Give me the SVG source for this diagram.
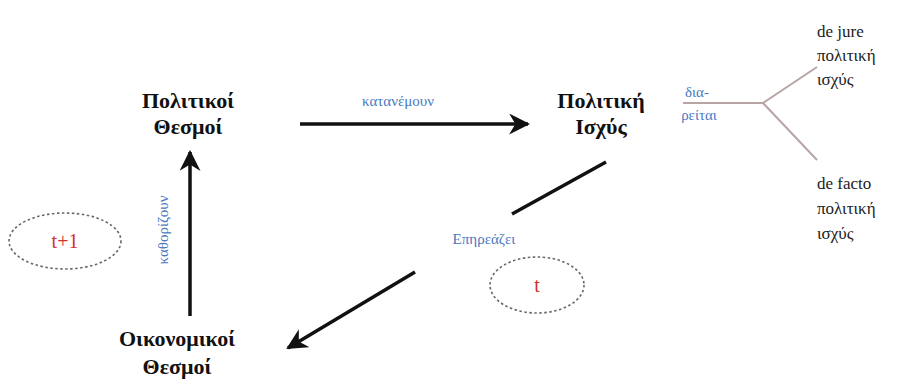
<svg xmlns="http://www.w3.org/2000/svg" width="922" height="387" viewBox="0 0 922 387">
<style>
.conn{stroke:#111;stroke-width:3.5;fill:none}
.branch{stroke:#b8a4a4;stroke-width:2;fill:none}
.dash{stroke:#666;stroke-width:1.6;stroke-dasharray:2.5 2.5;fill:none}
</style>
<defs>
<marker id="ah" viewBox="0 0 10 10" refX="9" refY="5" markerWidth="6" markerHeight="6" markerUnits="strokeWidth" orient="auto">
<path d="M0,0 L10,5 L0,10 L3,5 Z" fill="#111"/>
</marker>
</defs>
<rect width="922" height="387" fill="#fff"/>
<g id="connectors">
<line class="conn" x1="300" y1="124" x2="528" y2="124" marker-end="url(#ah)"/>
<text font-family="Liberation Serif" font-size="15" fill="#4a78c2" x="398" y="106" text-anchor="middle">κατανέμουν</text>
<line class="conn" x1="190" y1="316" x2="190" y2="152" marker-end="url(#ah)"/>
<text font-family="Liberation Serif" font-size="15" fill="#4a78c2" transform="translate(168,230) rotate(-90)" text-anchor="middle">καθορίζουν</text>
<line class="conn" x1="606" y1="162" x2="512" y2="214"/>
<line class="conn" x1="415" y1="272" x2="288" y2="348" marker-end="url(#ah)"/>
<text font-family="Liberation Serif" font-size="15" fill="#4a78c2" x="484" y="244" text-anchor="middle">Επηρεάζει</text>
<line class="branch" x1="683" y1="103" x2="763" y2="103"/>
<line class="branch" x1="763" y1="103" x2="817" y2="67"/>
<line class="branch" x1="763" y1="103" x2="817" y2="160"/>
<text font-family="Liberation Serif" font-size="15" fill="#4a78c2" x="697" y="97" text-anchor="middle">δια-</text>
<text font-family="Liberation Serif" font-size="15" fill="#4a78c2" x="699" y="120" text-anchor="middle">ρείται</text>
</g>
<g id="n-politikoi-thesmoi">
<text font-family="Liberation Serif" font-weight="bold" font-size="22" fill="#111" text-anchor="middle" x="188" y="108">Πολιτικοί</text>
<text font-family="Liberation Serif" font-weight="bold" font-size="22" fill="#111" text-anchor="middle" x="188" y="134">Θεσμοί</text>
</g>
<g id="n-politiki-isxys">
<text font-family="Liberation Serif" font-weight="bold" font-size="22" fill="#111" text-anchor="middle" x="601" y="108">Πολιτική</text>
<text font-family="Liberation Serif" font-weight="bold" font-size="22" fill="#111" text-anchor="middle" x="601" y="134">Ισχύς</text>
</g>
<g id="n-oikonomikoi-thesmoi">
<text font-family="Liberation Serif" font-weight="bold" font-size="22" fill="#111" text-anchor="middle" x="177" y="346">Οικονομικοί</text>
<text font-family="Liberation Serif" font-weight="bold" font-size="22" fill="#111" text-anchor="middle" x="177" y="374">Θεσμοί</text>
</g>
<g id="n-dejure">
<text font-family="Liberation Serif" font-size="17" fill="#222" x="817" y="37">de jure</text>
<text font-family="Liberation Serif" font-size="17" fill="#222" x="817" y="61">πολιτική</text>
<text font-family="Liberation Serif" font-size="17" fill="#222" x="817" y="85">ισχύς</text>
</g>
<g id="n-defacto">
<text font-family="Liberation Serif" font-size="17" fill="#222" x="817" y="189">de facto</text>
<text font-family="Liberation Serif" font-size="17" fill="#222" x="817" y="214">πολιτική</text>
<text font-family="Liberation Serif" font-size="17" fill="#222" x="817" y="239">ισχύς</text>
</g>
<g id="t-plus-1">
<ellipse class="dash" cx="65" cy="241" rx="56" ry="28"/>
<text font-family="Liberation Serif" font-size="20" fill="#d03030" text-anchor="middle" x="65" y="248">t+1</text>
</g>
<g id="t-now">
<ellipse class="dash" cx="537" cy="285" rx="47" ry="28"/>
<text font-family="Liberation Serif" font-size="20" fill="#d03030" text-anchor="middle" x="537" y="292">t</text>
</g>
</svg>
